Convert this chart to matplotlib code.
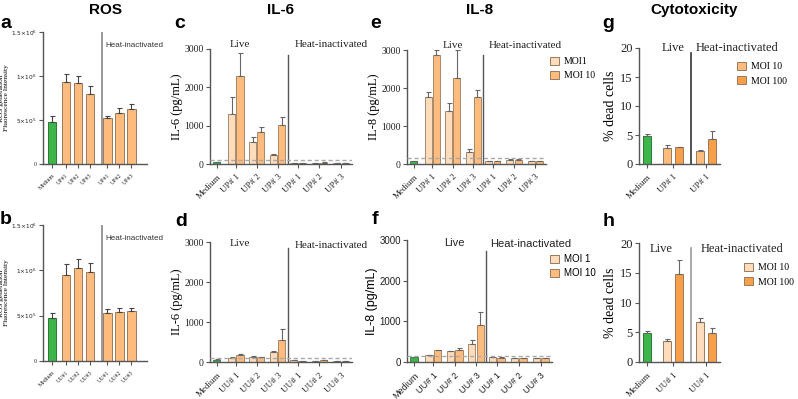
import numpy as np
from matplotlib import pyplot as plt
from matplotlib.patches import Patch

W, H = 798, 399

SERIF = 'Liberation Serif'
SANS = 'Liberation Sans'

GREEN = '#3db54a'
PEACH = '#fddcbc'
ORANGE = '#fdbb7d'
DARK_ORANGE = '#f7a049'
EDGE = '#9a7a5c'

# ---- ROS (a, b) ----
ros_labels_up = ['Medium', 'UP#1', 'UP#2', 'UP#3', 'UP#1', 'UP#2', 'UP#3']
ros_labels_uu = ['Medium', 'UU#1', 'UU#2', 'UU#3', 'UU#1', 'UU#2', 'UU#3']
ros_up = [0.474e6, 0.936e6, 0.925e6, 0.80e6, 0.52e6, 0.575e6, 0.62e6]
ros_up_err = [0.066e6, 0.084e6, 0.075e6, 0.09e6, 0.03e6, 0.065e6, 0.06e6]
ros_uu = [0.478e6, 0.948e6, 1.026e6, 0.985e6, 0.526e6, 0.544e6, 0.548e6]
ros_uu_err = [0.055e6, 0.12e6, 0.10e6, 0.095e6, 0.044e6, 0.046e6, 0.042e6]

# ---- IL-6 (c, d) ----
il6_up_medium, il6_up_medium_err = 52, 10
il6_up_moi1 = [1313, 565, 226, 25, 20, 25]
il6_up_moi1_err = [435, 139, 35, 3, 3, 3]
il6_up_moi10 = [2287, 835, 1009, 20, 35, 20]
il6_up_moi10_err = [609, 130, 217, 3, 5, 3]

il6_uu_medium, il6_uu_medium_err = 59, 8
il6_uu_moi1 = [109, 134, 260, 50, 20, 30]
il6_uu_moi1_err = [10, 10, 10, 3, 3, 3]
il6_uu_moi10 = [168, 117, 562, 30, 55, 30]
il6_uu_moi10_err = [25, 8, 251, 3, 5, 3]

# ---- IL-8 (e, f) ----
il8_up_medium, il8_up_medium_err = 87, 5
il8_up_moi1 = [1767, 1400, 306, 70, 105, 70]
il8_up_moi1_err = [123, 210, 88, 5, 15, 5]
il8_up_moi10 = [2870, 2275, 1759, 70, 105, 70]
il8_up_moi10_err = [130, 725, 183, 5, 15, 5]

il8_uu_medium, il8_uu_medium_err = 123, 5
il8_uu_moi1 = [164, 271, 435, 123, 99, 99]
il8_uu_moi1_err = [15, 10, 107, 5, 5, 5]
il8_uu_moi10 = [296, 288, 904, 107, 99, 99]
il8_uu_moi10_err = [10, 65, 320, 5, 5, 5]

up_labels = ['Medium', 'UP# 1', 'UP# 2', 'UP# 3', 'UP# 1', 'UP# 2', 'UP# 3']
uu_labels = ['Medium', 'UU# 1', 'UU# 2', 'UU# 3', 'UU# 1', 'UU# 2', 'UU# 3']

# ---- Cytotoxicity (g, h) ----
cyto_labels_up = ['Medium', 'UP# 1', 'UP# 1']
cyto_labels_uu = ['Medium', 'UU# 1', 'UU# 1']

cyto_up_medium, cyto_up_medium_err = 4.89, 0.28
cyto_up_moi10 = [2.82, 2.3]
cyto_up_moi10_err = [0.38, 0.1]
cyto_up_moi100 = [2.87, 4.37]
cyto_up_moi100_err = [0.05, 1.38]

cyto_uu_medium, cyto_uu_medium_err = 4.9, 0.23
cyto_uu_moi10 = [3.49, 6.7]
cyto_uu_moi10_err = [0.34, 0.68]
cyto_uu_moi100 = [14.87, 4.9]
cyto_uu_moi100_err = [2.2, 0.79]


def px_axes(fig, left, top, right, bottom):
    return fig.add_axes([left / W, 1 - bottom / H, (right - left) / W, (bottom - top) / H])


def style_axes(ax, family, size, xsize=None):
    for s in ['top', 'right']:
        ax.spines[s].set_visible(False)
    for s in ['left', 'bottom']:
        ax.spines[s].set_color('#555555')
        ax.spines[s].set_linewidth(1.0)
    ax.tick_params(colors='#555555', length=3, width=0.8, labelcolor='#222222', labelsize=size)
    if xsize:
        ax.tick_params(axis='x', labelsize=xsize)
    ax.tick_params(axis='y', pad=1.5)
    for lab in ax.get_xticklabels() + ax.get_yticklabels():
        lab.set_family(family)


def up_err(ax, x, y, e, color='#666666', cap=1.8):
    y = np.atleast_1d(y)
    e = np.atleast_1d(e)
    ax.errorbar(x, y, yerr=[np.zeros_like(e), e], fmt='none', ecolor=color,
                elinewidth=0.8, capsize=cap, capthick=0.8)


def ros_panel(ax, vals, errs, labels):
    pos = np.array([0, 1.15, 2.15, 3.15, 4.6, 5.6, 6.6])
    colors = [GREEN] + [ORANGE] * 6
    edges = ['#2a7a33'] + [EDGE] * 6
    ax.bar(pos, vals, width=0.72, color=colors, edgecolor=edges, linewidth=0.7, zorder=2)
    up_err(ax, pos, vals, errs, color='#444444', cap=1.8)
    ax.axvline(4.17, color='#888888', lw=1.2, zorder=1)
    ax.set_xlim(-0.75, 7.9)
    ax.set_ylim(0, 1.5e6)
    ax.set_yticks([0, 5e5, 1e6, 1.5e6])
    ax.set_yticklabels(['0', r'$5{\times}10^5$', r'$1{\times}10^6$', r'$1.5{\times}10^6$'])
    ax.set_xticks(pos)
    ax.set_xticklabels(labels, rotation=45, ha='right', rotation_mode='anchor')
    style_axes(ax, SERIF, 4.2)
    ax.set_ylabel('ROS generation\nFluorescence Intensity', family=SERIF, fontsize=5.3,
                  labelpad=1, linespacing=1.1)
    ax.text(4.45, 1.35e6, 'Heat-inactivated', family=SANS, fontsize=5.8, color='#333333',
            va='center', ha='left', clip_on=False)


def cytokine_panel(ax, medium, medium_err, moi1, moi1_err, moi10, moi10_err, labels,
                   family, ylabel, threshold, live_x, live_y, heat_x, heat_y, div_top,
                   legend_xy, legend_labels):
    groups = np.concatenate([0.9 + np.arange(3), 3.86 + 1.03 * np.arange(3)])
    off = 0.2
    w = 0.34
    ax.bar(0, medium, width=w, color=GREEN, edgecolor='#2a7a33', linewidth=0.6, zorder=2)
    ax.bar(groups - off, moi1, width=w, color=PEACH, edgecolor=EDGE, linewidth=0.6, zorder=2)
    ax.bar(groups + off, moi10, width=w, color=ORANGE, edgecolor=EDGE, linewidth=0.6, zorder=2)
    up_err(ax, [0], medium, medium_err)
    up_err(ax, groups - off, moi1, moi1_err)
    up_err(ax, groups + off, moi10, moi10_err)
    ax.axhline(threshold, color='#aaaaaa', lw=1.0, ls=(0, (3, 2)), zorder=3)
    ax.axvline(3.38, ymin=0, ymax=div_top, color='#555555', lw=1.0, zorder=1)
    ax.set_xlim(-0.33, 6.45)
    ax.set_ylim(0, 3000)
    ax.set_yticks([0, 1000, 2000, 3000])
    ax.set_xticks(np.concatenate([[0], groups]))
    ax.set_xticklabels(labels, rotation=45, ha='right', rotation_mode='anchor')
    style_axes(ax, family, 7, xsize=6.5)
    ax.set_ylabel(ylabel, family=family, fontsize=9, labelpad=1)
    ax.text(live_x, live_y, 'Live', family=family, fontsize=8, color='#222222', ha='center',
            va='center', transform=ax.get_xaxis_transform(), clip_on=False)
    ax.text(heat_x, heat_y, 'Heat-inactivated', family=family, fontsize=8, color='#222222',
            ha='center', va='center', transform=ax.get_xaxis_transform(), clip_on=False)
    if legend_xy is not None:
        handles = [Patch(facecolor=PEACH, edgecolor=EDGE, linewidth=0.7),
                   Patch(facecolor=ORANGE, edgecolor=EDGE, linewidth=0.7)]
        ax.legend(handles, legend_labels, loc='upper left',
                  bbox_to_anchor=(legend_xy[0] / W, 1 - legend_xy[1] / H),
                  bbox_transform=ax.figure.transFigure, frameon=False,
                  prop={'family': family, 'size': 7}, handlelength=0.9, handleheight=0.9,
                  handletextpad=0.5, labelspacing=0.45, borderaxespad=0, borderpad=0)


def cyto_panel(ax, medium, medium_err, moi10, moi10_err, moi100, moi100_err, labels,
               c10, c100, live_x, live_y, heat_x, heat_y, div_color, legend_xy):
    groups = np.array([1.0, 2.25])
    off = 0.23
    w = 0.31
    ax.bar(0, medium, width=w, color=GREEN, edgecolor='#2a7a33', linewidth=0.7, zorder=2)
    ax.bar(groups - off, moi10, width=w, color=c10, edgecolor=EDGE, linewidth=0.7, zorder=2)
    ax.bar(groups + off, moi100, width=w, color=c100, edgecolor=EDGE, linewidth=0.7, zorder=2)
    up_err(ax, [0], medium, medium_err)
    up_err(ax, groups - off, moi10, moi10_err)
    up_err(ax, groups + off, moi100, moi100_err)
    ax.axvline(1.69, ymin=0, ymax=0.96, color=div_color, lw=1.2, zorder=1)
    ax.set_xlim(-0.31, 2.8)
    ax.set_ylim(0, 20)
    ax.set_yticks([0, 5, 10, 15, 20])
    ax.set_xticks(np.concatenate([[0], groups]))
    ax.set_xticklabels(labels, rotation=45, ha='right', rotation_mode='anchor')
    style_axes(ax, SERIF, 9, xsize=6.5)
    ax.set_ylabel('% dead cells', family=SERIF, fontsize=10, labelpad=2)
    ax.text(live_x, live_y, 'Live', family=SERIF, fontsize=9, color='#222222', ha='center',
            va='center', transform=ax.get_xaxis_transform(), clip_on=False)
    ax.text(heat_x, heat_y, 'Heat-inactivated', family=SERIF, fontsize=9, color='#222222',
            ha='center', va='center', transform=ax.get_xaxis_transform(), clip_on=False)
    handles = [Patch(facecolor=c10, edgecolor=EDGE, linewidth=0.7),
               Patch(facecolor=c100, edgecolor=EDGE, linewidth=0.7)]
    ax.legend(handles, ['MOI 10', 'MOI 100'], loc='upper left',
              bbox_to_anchor=(legend_xy[0] / W, 1 - legend_xy[1] / H),
              bbox_transform=ax.figure.transFigure, frameon=False,
              prop={'family': SERIF, 'size': 7}, handlelength=0.9, handleheight=0.9,
              handletextpad=0.5, labelspacing=0.5, borderaxespad=0, borderpad=0)


fig = plt.figure(figsize=(W / 100, H / 100), dpi=100)

ax_a = px_axes(fig, 43, 32, 147, 164)
ros_panel(ax_a, ros_up, ros_up_err, ros_labels_up)
ax_b = px_axes(fig, 43, 225, 147, 361)
ros_panel(ax_b, ros_uu, ros_uu_err, ros_labels_uu)

ax_c = px_axes(fig, 210, 49, 352, 164)
cytokine_panel(ax_c, il6_up_medium, il6_up_medium_err, il6_up_moi1, il6_up_moi1_err,
               il6_up_moi10, il6_up_moi10_err, up_labels, SERIF, 'IL-6 (pg/mL)', 100,
               1.1, 1.04, 5.45, 1.04, 0.95, None, None)

ax_d = px_axes(fig, 210, 242, 352, 362)
cytokine_panel(ax_d, il6_uu_medium, il6_uu_medium_err, il6_uu_moi1, il6_uu_moi1_err,
               il6_uu_moi10, il6_uu_moi10_err, uu_labels, SERIF, 'IL-6 (pg/mL)', 100,
               1.1, 0.99, 5.45, 0.975, 0.95, None, None)

ax_e = px_axes(fig, 407, 50, 546, 164)
cytokine_panel(ax_e, il8_up_medium, il8_up_medium_err, il8_up_moi1, il8_up_moi1_err,
               il8_up_moi10, il8_up_moi10_err, up_labels, SERIF, 'IL-8 (pg/mL)', 150,
               1.9, 1.04, 5.45, 1.04, 0.96, (550, 57), ['MOI1', 'MOI 10'])

ax_f = px_axes(fig, 407, 240, 552, 362)
cytokine_panel(ax_f, il8_uu_medium, il8_uu_medium_err, il8_uu_moi1, il8_uu_moi1_err,
               il8_uu_moi10, il8_uu_moi10_err, uu_labels, SANS, 'IL-8 (pg/mL)', 150,
               1.9, 0.975, 5.45, 0.97, 0.91, (550, 254), ['MOI 1', 'MOI 10'])

ax_g = px_axes(fig, 639, 48, 720, 164)
cyto_panel(ax_g, cyto_up_medium, cyto_up_medium_err, cyto_up_moi10, cyto_up_moi10_err,
           cyto_up_moi100, cyto_up_moi100_err, cyto_labels_up, ORANGE, DARK_ORANGE,
           1.0, 1.0, 3.46, 1.0, '#333333', (737, 62))

ax_h = px_axes(fig, 639, 243, 720, 362)
cyto_panel(ax_h, cyto_uu_medium, cyto_uu_medium_err, cyto_uu_moi10, cyto_uu_moi10_err,
           cyto_uu_moi100, cyto_uu_moi100_err, cyto_labels_uu, PEACH, DARK_ORANGE,
           0.54, 0.95, 3.65, 0.95, '#999999', (744, 263))

# column titles
for x, t in [(105, 'ROS'), (280, 'IL-6'), (480, 'IL-8'), (694, 'Cytotoxicity')]:
    fig.text(x / W, 1 - 10 / H, t, family=SANS, weight='bold', fontsize=11,
             ha='center', va='center')

# panel letters
for x, y, t in [(6, 23, 'a'), (6, 220, 'b'), (180, 23, 'c'), (181, 222, 'd'),
                (376, 23, 'e'), (375, 220, 'f'), (608, 24, 'g'), (609, 221, 'h')]:
    fig.text(x / W, 1 - y / H, t, family=SANS, weight='bold', fontsize=14,
             ha='center', va='center')

fig.savefig('out.png', dpi=100)
